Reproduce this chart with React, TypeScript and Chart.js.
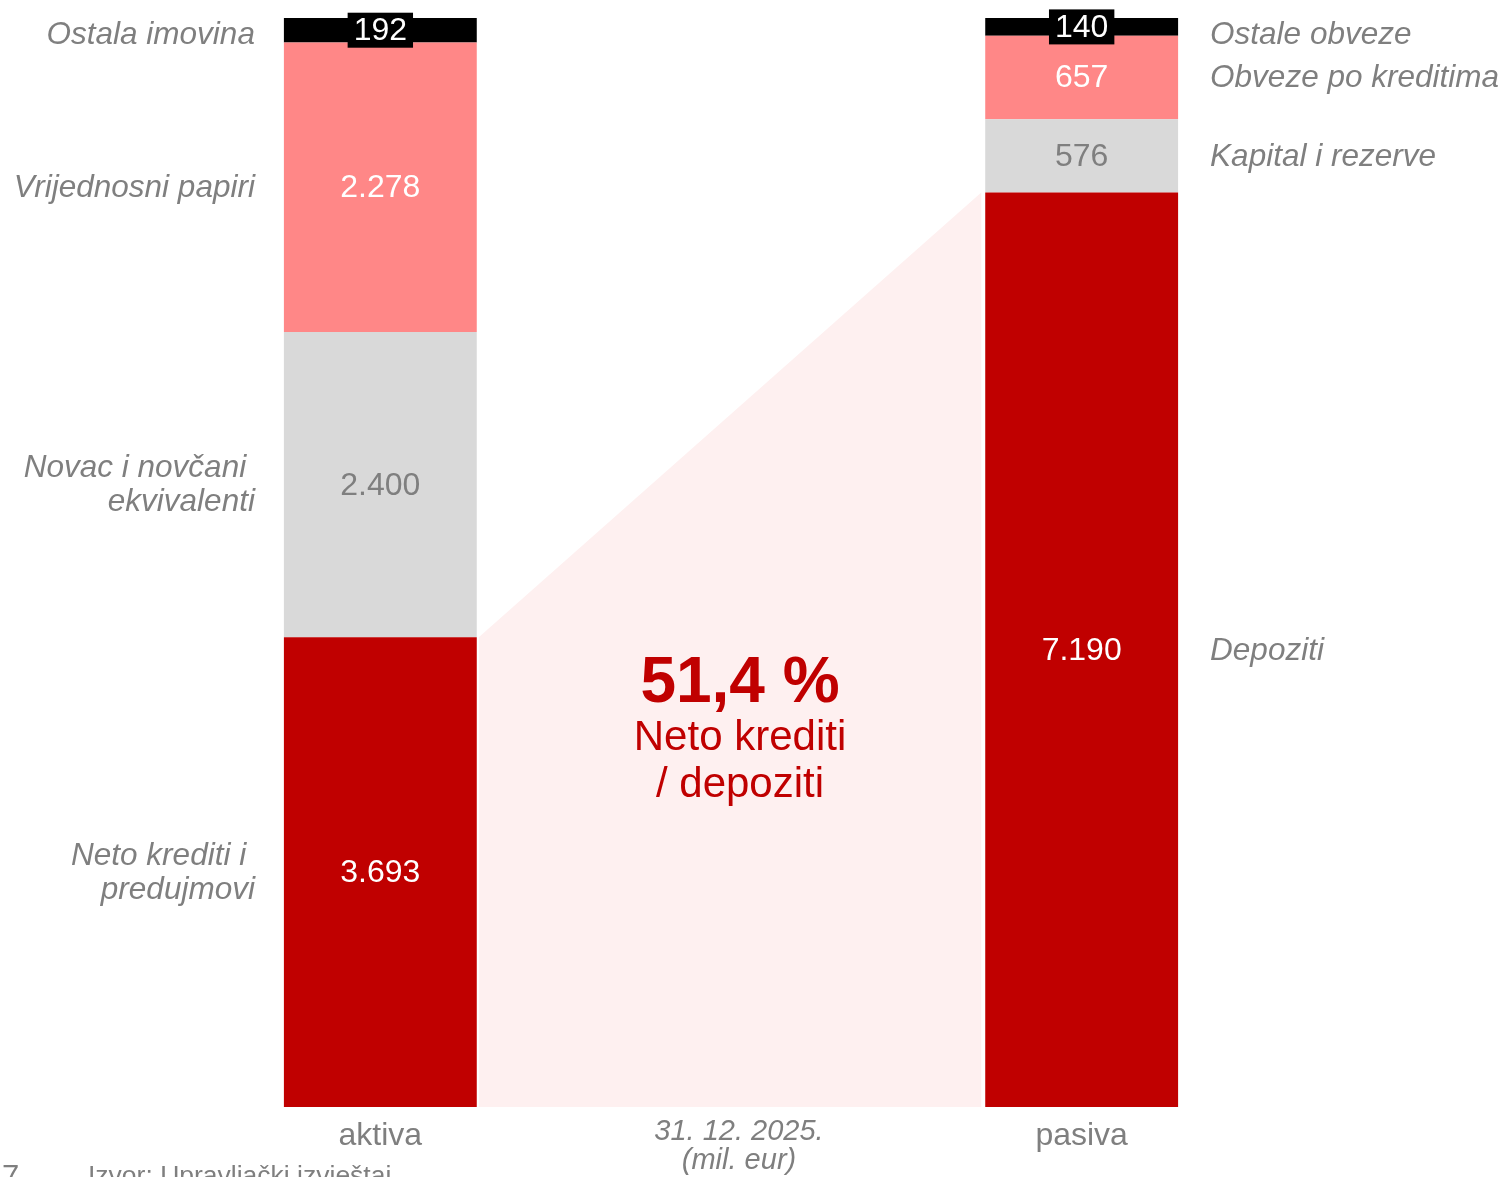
import React, { useEffect, useRef } from "react";
import { Chart, registerables } from "chart.js";

Chart.register(...registerables);

const categories = ["aktiva", "", "pasiva"];
const dateLabel = ["31. 12. 2025.", "(mil. eur)"];
const aktivaValues = [3693, 2400, 2278, 192];
const pasivaValues = [7190, 576, 657, 140];
const aktivaNames = ["Neto krediti i \npredujmovi", "Novac i novčani \nekvivalenti", "Vrijednosni papiri", "Ostala imovina"];
const pasivaNames = ["Depoziti", "Kapital i rezerve", "Obveze po kreditima", "Ostale obveze"];
const segmentColors = ["#C00000", "#D9D9D9", "#FF8787", "#000000"];
const valueColors = ["#FFFFFF", "#7F7F7F", "#FFFFFF", "#FFFFFF"];
const ratioSub = ["Neto krediti", "/ depoziti"];
const footer = "Izvor: Upravljački izvještaj";
const pageNo = "7";

const FONT = "'Liberation Sans', Arial, sans-serif";
const GREY = "#7F7F7F";

const fmt = (v: number) => String(v).replace(/\B(?=(\d{3})+(?!\d))/g, ".");

const overlayPlugin = {
  id: "overlay",
  beforeDatasetsDraw(chart: any) {
    const ctx = chart.ctx;
    const meta = chart.getDatasetMeta(0);
    const a = meta.data[0];
    const p = meta.data[2];
    const base = chart.scales.y.getPixelForValue(0);
    const x0 = a.x + a.width / 2 + 2;
    const x1 = p.x - p.width / 2 - 4;
    ctx.save();
    ctx.fillStyle = "#FEF0F0";
    ctx.beginPath();
    ctx.moveTo(x0, a.y);
    ctx.lineTo(x1, p.y);
    ctx.lineTo(x1, base);
    ctx.lineTo(x0, base);
    ctx.closePath();
    ctx.fill();
    ctx.restore();
  },
  afterDatasetsDraw(chart: any) {
    const ctx = chart.ctx;
    const area = chart.chartArea;
    ctx.save();
    chart.data.datasets.forEach((ds: any, i: number) => {
      const meta = chart.getDatasetMeta(i);
      [0, 2].forEach((j) => {
        const el = meta.data[j];
        const v = ds.data[j];
        if (v == null) return;
        const cy = (el.y + el.base) / 2;
        const text = fmt(v);
        ctx.font = `32px ${FONT}`;
        ctx.textAlign = "center";
        ctx.textBaseline = "middle";
        if (i === 3) {
          const tw = ctx.measureText(text).width;
          ctx.fillStyle = "#000000";
          ctx.fillRect(el.x - tw / 2 - 6, cy - 17.5, tw + 12, 35);
        }
        ctx.fillStyle = valueColors[i];
        ctx.fillText(text, el.x, cy + 1);

        const name = j === 0 ? aktivaNames[i] : pasivaNames[i];
        const lines = name.split("\n");
        const ly = Math.max(cy, area.top + 16);
        ctx.font = `italic 31.5px ${FONT}`;
        ctx.fillStyle = GREY;
        let lx: number;
        if (j === 0) {
          ctx.textAlign = "right";
          lx = el.x - el.width / 2 - 29;
        } else {
          ctx.textAlign = "left";
          lx = el.x + el.width / 2 + 32;
        }
        const lh = 34;
        lines.forEach((ln, k) => {
          ctx.fillText(ln, lx, ly - ((lines.length - 1) * lh) / 2 + k * lh + 1);
        });
      });
    });

    const xs = chart.scales.x;
    ctx.font = `32px ${FONT}`;
    ctx.fillStyle = GREY;
    ctx.textAlign = "center";
    ctx.textBaseline = "alphabetic";
    categories.forEach((c, idx) => {
      if (!c) return;
      ctx.fillText(c, xs.getPixelForValue(idx), area.bottom + 38);
    });
    const midX = (xs.getPixelForValue(0) + xs.getPixelForValue(2)) / 2 + 8;
    ctx.font = `italic 29px ${FONT}`;
    ctx.fillText(dateLabel[0], midX, area.bottom + 33);
    ctx.fillText(dateLabel[1], midX, area.bottom + 62);

    const ratio = (aktivaValues[0] / pasivaValues[0]) * 100;
    const ratioText = ratio.toFixed(1).replace(".", ",") + " %";
    ctx.fillStyle = "#C00000";
    ctx.font = `bold 64px ${FONT}`;
    ctx.fillText(ratioText, midX + 1, area.top + 684);
    ctx.font = `42px ${FONT}`;
    ctx.fillText(ratioSub[0], midX + 1, area.top + 732);
    ctx.fillText(ratioSub[1], midX + 1, area.top + 779);

    ctx.fillStyle = GREY;
    ctx.textAlign = "left";
    ctx.font = `26.5px ${FONT}`;
    ctx.fillText(footer, 88, area.bottom + 77);
    ctx.font = `31px ${FONT}`;
    ctx.fillText(pageNo, 2, area.bottom + 80);
    ctx.restore();
  },
};

export default function App() {
  const ref = useRef<HTMLCanvasElement>(null);
  useEffect(() => {
    if (!ref.current) return;
    const total = Math.max(
      aktivaValues.reduce((s, v) => s + v, 0),
      pasivaValues.reduce((s, v) => s + v, 0)
    );
    const chart = new Chart(ref.current, {
      type: "bar",
      data: {
        labels: categories,
        datasets: aktivaValues.map((v, i) => ({
          label: pasivaNames[i],
          data: [v, null, pasivaValues[i]],
          backgroundColor: segmentColors[i],
          borderWidth: 0,
          barPercentage: 1,
          categoryPercentage: 0.55,
        })),
      },
      options: {
        responsive: false,
        animation: false,
        devicePixelRatio: 1,
        layout: { padding: { left: 205, right: 249, top: 18, bottom: 70 } },
        plugins: { legend: { display: false }, tooltip: { enabled: false } },
        scales: {
          x: { stacked: true, display: false },
          y: { stacked: true, display: false, min: 0, max: total },
        },
      },
      plugins: [overlayPlugin],
    } as any);
    return () => chart.destroy();
  }, []);
  return (
    <div style={{ position: "fixed", left: 0, top: 0, width: 1506, height: 1177, background: "#fff" }}>
      <canvas ref={ref} width={1506} height={1177} />
    </div>
  );
}
